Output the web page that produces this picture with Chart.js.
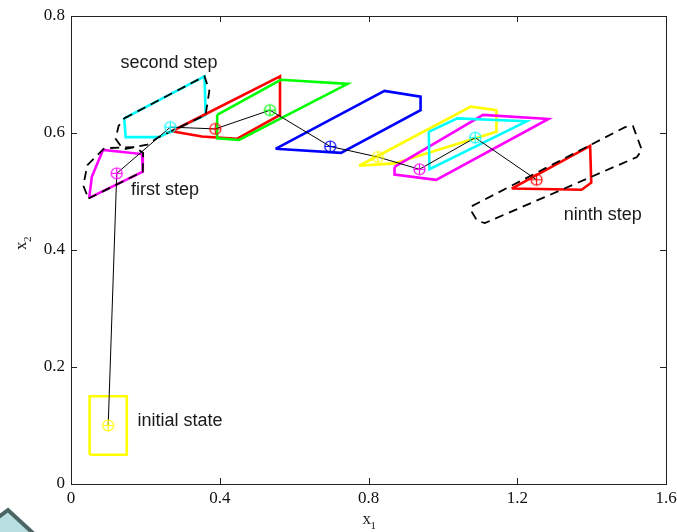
<!DOCTYPE html>
<html>
<head>
<meta charset="utf-8">
<title>reachable sets</title>
<script src="https://cdn.jsdelivr.net/npm/chart.js@4.4.1/dist/chart.umd.min.js"></script>
<style>
    html, body { margin: 0; padding: 0; background: #fff; }
    #wrap { position: relative; width: 677px; height: 532px; }
    #deco { position: absolute; left: 0; top: 500px; }
</style>
</head>
<body>
<div id="wrap">
    <canvas id="chart" width="677" height="532"></canvas>
    <svg id="deco" width="60" height="32" viewBox="0 500 60 32">
        <polygon points="-24,534 8,510 34,534" fill="#b9e0e0" stroke="#4b6464" stroke-width="4"/>
    </svg>
</div>
<script>
// ===== DATOS =====
const xTicks = [0, 0.4, 0.8, 1.2, 1.6];
const yTicks = [0, 0.2, 0.4, 0.6, 0.8];

// conjunto inicial y conjuntos de cada paso (vértices x1, x2)
const initialSet = [[0.05, 0.05], [0.15, 0.05], [0.15, 0.15], [0.05, 0.15]];
const step1Set = [[0.049, 0.489], [0.056, 0.525], [0.086, 0.571], [0.191, 0.564], [0.193, 0.534]];
const step2Set = [[0.143, 0.625], [0.359, 0.697], [0.362, 0.631], [0.236, 0.593], [0.147, 0.593]];
const step3Set = [[0.271, 0.603], [0.562, 0.697], [0.562, 0.631], [0.446, 0.590], [0.352, 0.594]];
const step4Set = [[0.393, 0.631], [0.564, 0.691], [0.744, 0.684], [0.452, 0.588], [0.393, 0.591]];
const step5Set = [[0.550, 0.573], [0.843, 0.672], [0.940, 0.662], [0.940, 0.639], [0.726, 0.566]];
const step6Set = [[0.775, 0.544], [1.075, 0.645], [1.144, 0.639], [1.144, 0.602], [0.869, 0.548]];
const step7Set = [[0.870, 0.542], [1.108, 0.631], [1.284, 0.624], [0.982, 0.520], [0.870, 0.529]];
const step8Set = [[0.962, 0.602], [1.039, 0.625], [1.225, 0.620], [0.964, 0.538]];
const step9Set = [[1.185, 0.505], [1.396, 0.578], [1.399, 0.515], [1.373, 0.503]];

// aproximaciones (línea discontinua)
const approx1 = [[0.047, 0.488], [0.193, 0.534], [0.194, 0.566], [0.17, 0.576], [0.09, 0.574], [0.072, 0.563], [0.044, 0.545], [0.033, 0.51]];
const approx2 = [[0.143, 0.625], [0.359, 0.697], [0.372, 0.672], [0.362, 0.631], [0.236, 0.593], [0.205, 0.580], [0.14, 0.572], [0.12, 0.59], [0.128, 0.612]];
const approx9 = [[1.078, 0.475], [1.490, 0.610], [1.511, 0.612], [1.535, 0.571], [1.522, 0.559], [1.113, 0.446], [1.092, 0.450], [1.078, 0.465]];

// trayectoria (centros de cada conjunto)
const trajX = [0.1, 0.123, 0.267, 0.388, 0.535, 0.697, 0.825, 0.937, 1.087, 1.252];
const trajY = [0.1, 0.531, 0.610, 0.607, 0.639, 0.577, 0.559, 0.538, 0.592, 0.520];

const labelText = ['second step', 'first step', 'ninth step', 'initial state'];
const labelX = [0.2635, 0.253, 1.430, 0.293];
const labelY = [0.7197, 0.5026, 0.460, 0.1077];

// ===== COLORES =====
const C = { y: '#ffff00', m: '#ff00ff', c: '#00ffff', r: '#ff0000', g: '#00ff00', b: '#0000ff' };
const sets = [initialSet, step1Set, step2Set, step3Set, step4Set, step5Set, step6Set, step7Set, step8Set, step9Set];
const setColors = [C.y, C.m, C.c, C.r, C.g, C.b, C.y, C.m, C.c, C.r];

// ===== HELPERS =====
function closed(poly) {
    const pts = poly.map(([x, y]) => ({ x, y }));
    pts.push({ ...pts[0] });
    return pts;
}

function makeMarker(color) {
    const cv = document.createElement('canvas');
    cv.width = 15; cv.height = 15;
    const g = cv.getContext('2d');
    g.strokeStyle = color;
    g.lineWidth = 1.2;
    g.beginPath(); g.arc(7.5, 7.5, 5.5, 0, Math.PI * 2); g.stroke();
    g.beginPath();
    g.moveTo(7.5, 2); g.lineTo(7.5, 13);
    g.moveTo(2, 7.5); g.lineTo(13, 7.5);
    g.stroke();
    return cv;
}

const fmt = v => String(+Number(v).toFixed(1));

// ===== DATASETS =====
const datasets = [];

sets.forEach((poly, i) => {
    datasets.push({
        data: closed(poly),
        showLine: true,
        borderColor: setColors[i],
        borderWidth: 2.6,
        pointRadius: 0,
        order: 100 - i,
    });
});

[approx1, approx2, approx9].forEach(poly => {
    datasets.push({
        data: closed(poly),
        showLine: true,
        borderColor: '#000',
        borderWidth: 1.8,
        borderDash: [9, 6],
        pointRadius: 0,
        order: 3,
    });
});

datasets.push({
    data: trajX.map((x, i) => ({ x, y: trajY[i] })),
    showLine: true,
    borderColor: '#000',
    borderWidth: 1,
    pointRadius: 0,
    order: 2,
});

datasets.push({
    data: trajX.map((x, i) => ({ x, y: trajY[i] })),
    showLine: false,
    pointStyle: setColors.map(makeMarker),
    pointRadius: 6,
    order: 1,
});

// ===== CAJA, TICKS Y TEXTOS =====
const boxPlugin = {
    id: 'box',
    afterDraw(chart) {
        const { ctx, chartArea: a, scales } = chart;
        ctx.save();
        ctx.strokeStyle = '#222';
        ctx.lineWidth = 1;
        ctx.strokeRect(a.left + 0.5, a.top + 0.5, a.right - a.left, a.bottom - a.top);

        ctx.beginPath();
        xTicks.forEach(v => {
            const px = Math.round(scales.x.getPixelForValue(v)) + 0.5;
            ctx.moveTo(px, a.bottom); ctx.lineTo(px, a.bottom - 6);
            ctx.moveTo(px, a.top); ctx.lineTo(px, a.top + 6);
        });
        yTicks.forEach(v => {
            const py = Math.round(scales.y.getPixelForValue(v)) + 0.5;
            ctx.moveTo(a.left, py); ctx.lineTo(a.left + 6, py);
            ctx.moveTo(a.right, py); ctx.lineTo(a.right - 6, py);
        });
        ctx.stroke();

        // anotaciones
        ctx.fillStyle = '#1a1a1a';
        ctx.font = '18px "Liberation Sans", Arial, sans-serif';
        ctx.textAlign = 'center';
        ctx.textBaseline = 'middle';
        labelText.forEach((t, i) => {
            ctx.fillText(t, scales.x.getPixelForValue(labelX[i]), scales.y.getPixelForValue(labelY[i]));
        });

        // títulos de ejes con subíndice
        const cx = (a.left + a.right) / 2;
        ctx.textAlign = 'left';
        ctx.textBaseline = 'alphabetic';
        ctx.font = '17px "Liberation Serif", "Times New Roman", serif';
        ctx.fillText('x', cx - 6, 524);
        ctx.font = '11px "Liberation Serif", "Times New Roman", serif';
        ctx.fillText('1', cx + 2, 529);

        ctx.translate(26, 244);
        ctx.rotate(-Math.PI / 2);
        ctx.font = '17px "Liberation Serif", "Times New Roman", serif';
        ctx.fillText('x', -6, 0);
        ctx.font = '11px "Liberation Serif", "Times New Roman", serif';
        ctx.fillText('2', 2, 5);
        ctx.restore();
    }
};

// ===== GRÁFICA =====
const tickFont = { family: '"Liberation Serif", "Times New Roman", serif', size: 17 };

new Chart(document.getElementById('chart').getContext('2d'), {
    type: 'scatter',
    data: { datasets },
    options: {
        responsive: false,
        animation: false,
        layout: { padding: { top: 16, right: 11, left: 0, bottom: 0 } },
        plugins: { legend: { display: false }, tooltip: { enabled: false } },
        scales: {
            x: {
                type: 'linear',
                min: 0, max: 1.6,
                afterBuildTicks: s => { s.ticks = xTicks.map(v => ({ value: v })); },
                afterFit: s => { s.height = 48; s.paddingLeft = 0; s.paddingRight = 0; },
                grid: { display: false, drawTicks: false },
                border: { display: false },
                ticks: { color: '#111', font: tickFont, padding: 4, maxRotation: 0, callback: fmt },
            },
            y: {
                type: 'linear',
                min: 0, max: 0.8,
                afterBuildTicks: s => { s.ticks = yTicks.map(v => ({ value: v })); },
                afterFit: s => { s.width = 71; s.paddingTop = 0; s.paddingBottom = 0; },
                grid: { display: false, drawTicks: false },
                border: { display: false },
                ticks: { color: '#111', font: tickFont, padding: 6, callback: fmt },
            }
        }
    },
    plugins: [boxPlugin]
});
</script>
</body>
</html>
